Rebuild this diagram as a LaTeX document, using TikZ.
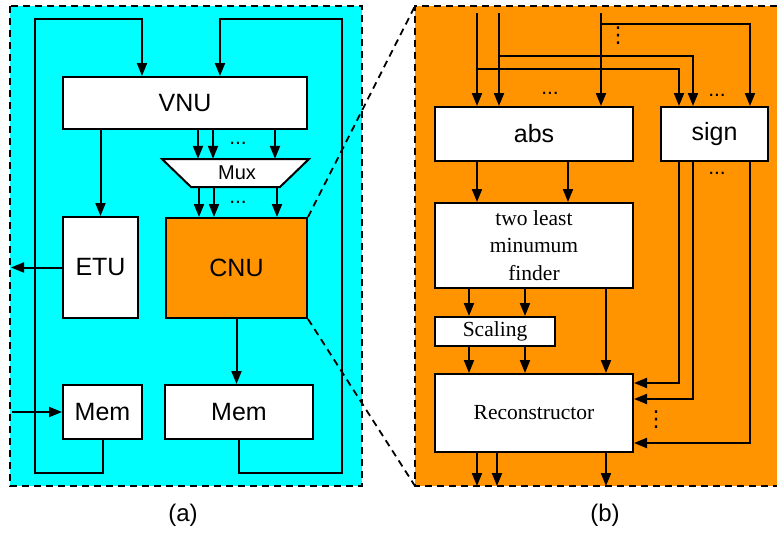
\documentclass[tikz,border=0pt]{standalone}
\usepackage{fontspec}
\setmainfont{Liberation Sans}
\newfontfamily\timesfont{Liberation Serif}
\newfontfamily\dejavu{DejaVu Sans}
\usetikzlibrary{arrows.meta}
\definecolor{cnuorange}{RGB}{255,147,0}
\definecolor{decbg}{RGB}{0,255,255}

\tikzset{
  wire/.style={line width=2pt},
  blk/.style={draw, line width=2pt, fill=white, inner sep=0pt,
    font=\fontsize{25}{30}\selectfont},
  sblk/.style={blk, align=center, font=\timesfont\fontsize{21.5}{27.5}\selectfont},
  panel/.style={line width=1.8pt, dash pattern=on 7pt off 5pt},
  dotsbox/.style={inner sep=0pt, font=\fontsize{21}{21}\selectfont},
  vdotsbox/.style={inner sep=0pt, font=\dejavu\fontsize{22}{22}\selectfont},
}

\begin{document}
\begin{tikzpicture}[x=1pt, y=-1pt, >={Triangle[length=13pt,width=10pt]}]
    \useasboundingbox (0,0) rectangle (777,533);

    % Panels
    \coordinate (bnw) at (415,6);
    \coordinate (bsw) at (415,486);
    \fill[decbg] (10,6) rectangle (362,486);
    \draw[panel] (10,6) rectangle (362,486);
    \fill[cnuorange] (bnw) rectangle (777,486);
    \draw[panel] (777,6) -- (bnw) -- (bsw) -- (777,486);

    % Blocks (a)
    \node[blk, minimum width=244, minimum height=52] (vnu) at (185,103) {VNU};
    \node[blk, minimum width=75, minimum height=101] (etu) at (100.5,267.5) {ETU};
    \node[blk, fill=cnuorange, minimum width=141, minimum height=100] (cnu) at (236.5,268) {CNU};
    \node[blk, minimum width=79, minimum height=54] (mem1) at (102.5,412) {Mem};
    \node[blk, minimum width=148, minimum height=54] (mem2) at (239,412) {Mem};
    \draw[wire, fill=white] (162,159) -- (309,159) -- (280,187) -- (191,187) -- cycle;
    \node[inner sep=0pt, minimum width=147, minimum height=28,
      font=\fontsize{20}{24}\selectfont] (mux) at (237,173) {Mux};

    % Zoom lines
    \draw[panel] (cnu.north east) -- (bnw);
    \draw[panel] (cnu.south east) -- (bsw);

    % Connections (a)
    \draw[wire,->] (etu.north |- vnu.south) -- (etu.north);
    \foreach \x in {198,213,275}
        \draw[wire,->] (\x,0 |- vnu.south) -- (\x,0 |- mux.north);
    \foreach \x in {199,214,277}
        \draw[wire,->] (\x,0 |- mux.south) -- (\x,0 |- cnu.north);
    \draw[wire,->] (cnu.south) -- (cnu.south |- mem2.north);
    \draw[wire,->] (mem1.south) |- (35,473) |- (142,19) -- (142,0 |- vnu.north);
    \draw[wire,->] (mem2.south) |- (342,473) |- (220,19) -- (220,0 |- vnu.north);
    \coordinate (etuout) at (11,268);
    \coordinate (memin) at (12,411);
    \draw[wire,->] (etu.west) -- (etuout |- etu.west);
    \draw[wire,->] (memin |- mem1.west) -- (mem1.west);
    \node[dotsbox] (dmuxa) at (238,143) {...};
    \node[dotsbox] (dmuxb) at (238,202) {...};

    % Blocks (b)
    \node[blk, minimum width=198, minimum height=54] (abs) at (534,134) {abs};
    \node[blk, minimum width=107, minimum height=54] (sign) at (714.5,134) {sign};
    \node[sblk, minimum width=198, minimum height=85] (tlm) at (534,245.5) {two least\\minumum\\finder};
    \node[sblk, minimum width=120, minimum height=29] (scal) at (495,331.5) {Scaling};
    \node[sblk, minimum width=198, minimum height=78] (rec) at (534,413) {Reconstructor};

    % Connections (b)
    \foreach \x [count=\i] in {477,499,601} {
        \coordinate (in\i) at (\x,13);
        \draw[wire,->] (in\i) -- (in\i |- abs.north);
    }
    \draw[wire,->] (in1 |- 0,69) -| (679,0 |- sign.north);
    \draw[wire,->] (in2 |- 0,56) -| (693,0 |- sign.north);
    \draw[wire,->] (in3 |- 0,24) -| (750,0 |- sign.north);
    \foreach \x in {477,568}
        \draw[wire,->] (\x,0 |- abs.south) -- (\x,0 |- tlm.north);
    \foreach \x in {469,525} {
        \draw[wire,->] (\x,0 |- tlm.south) -- (\x,0 |- scal.north);
        \draw[wire,->] (\x,0 |- scal.south) -- (\x,0 |- rec.north);
    }
    \draw[wire,->] (606,0 |- tlm.south) -- (606,0 |- rec.north);
    \foreach \x in {477,497,606}
        \draw[wire,->] (\x,0 |- rec.south) -- (\x,0 |- bsw);
    \foreach \x/\y in {679/383, 693/399, 750/443}
        \draw[wire,->] (\x,0 |- sign.south) |- (rec.east |- 0,\y);
    \node[dotsbox] (dabs) at (550,93) {...};
    \node[dotsbox] (dsigna) at (717,95) {...};
    \node[dotsbox] (dsignb) at (717,173) {...};
    \node[vdotsbox] (dtop) at (618,36) {⋮};
    \node[vdotsbox] (drec) at (656,420) {⋮};

    % Labels
    \node[font=\fontsize{24}{28}\selectfont] (lbla) at (183,515) {(a)};
    \node[font=\fontsize{24}{28}\selectfont] (lblb) at (605,515) {(b)};
\end{tikzpicture}
\end{document}
